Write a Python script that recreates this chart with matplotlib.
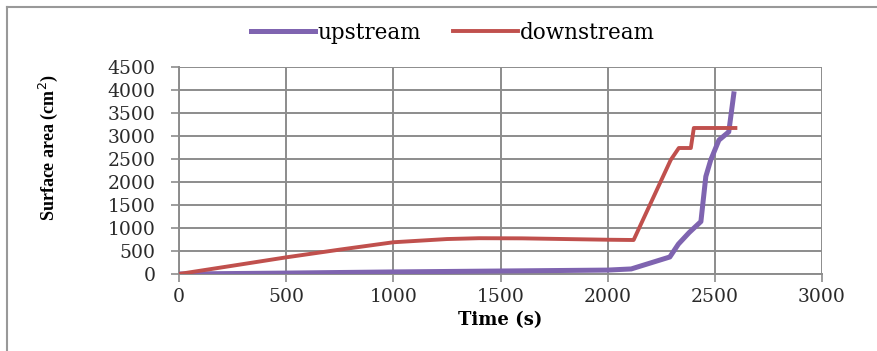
import matplotlib
matplotlib.use('Agg')
import matplotlib.pyplot as plt
from matplotlib.lines import Line2D

# surface area over time, upstream vs downstream
up_time = [0, 500, 1000, 1500, 2000, 2110, 2290, 2330, 2380, 2435, 2458, 2481, 2519, 2565, 2590]
up_area = [0, 20, 45, 65, 85, 110, 370, 650, 900, 1140, 2120, 2480, 2910, 3090, 3970]

down_time = [0, 250, 500, 750, 1000, 1250, 1400, 1600, 1800, 2000, 2121, 2294, 2332, 2388, 2402, 2605]
down_area = [0, 180, 362, 530, 690, 760, 778, 775, 760, 745, 739, 2478, 2739, 2739, 3174, 3174]

xticks = [0, 500, 1000, 1500, 2000, 2500, 3000]
yticks = [0, 500, 1000, 1500, 2000, 2500, 3000, 3500, 4000, 4500]

c_up = '#7f64b0'
c_down = '#c0504d'
grid_c = '#8c8c8c'

fig = plt.figure(figsize=(8.77, 3.51), dpi=100)
ax = fig.add_axes([179 / 877, 77 / 351, 643 / 877, 207 / 351])

ax.plot(up_time, up_area, color=c_up, lw=3.6, solid_capstyle='butt', zorder=3)
ax.plot(down_time, down_area, color=c_down, lw=2.8, solid_capstyle='butt', zorder=4)

ax.set_xlim(0, 3000)
ax.set_ylim(0, 4500)
ax.set_xticks(xticks)
ax.set_yticks(yticks)
ax.grid(True, color=grid_c, lw=1.4)
ax.set_axisbelow(True)
for s in ['top', 'right']:
    ax.spines[s].set_visible(False)
for s in ['left', 'bottom']:
    ax.spines[s].set_color(grid_c)
    ax.spines[s].set_linewidth(1.4)
ax.tick_params(axis='both', direction='out', length=6, width=1.2, color=grid_c,
               labelcolor='#2a2a2a', labelsize=13.5)
ax.tick_params(axis='x', pad=4)
ax.tick_params(axis='y', pad=11)
for lab in ax.get_xticklabels() + ax.get_yticklabels():
    lab.set_family('DejaVu Serif')

ax.set_xlabel('Time (s)', family='DejaVu Serif', fontweight='bold', fontsize=13, labelpad=4)
ax.set_ylabel('Surface area (cm$^2$)', family='Liberation Serif', fontweight='bold', fontsize=13)
ax.yaxis.set_label_coords(-0.185, 0.61)

handles = [Line2D([], [], color=c_up, lw=3.6), Line2D([], [], color=c_down, lw=2.8)]
fig.legend(handles, ['upstream', 'downstream'], loc='center', bbox_to_anchor=(453 / 877, 1 - 33 / 351),
           ncol=2, frameon=False, handlelength=3.0, handletextpad=0.1, columnspacing=1.5,
           prop={'family': 'DejaVu Serif', 'size': 15.5})

# chart area border
fig.add_artist(plt.Line2D([7 / 877, 7 / 877], [0, 1 - 7 / 351], transform=fig.transFigure,
                          color='#999999', lw=1.5))
fig.add_artist(plt.Line2D([7 / 877, 1], [1 - 7 / 351, 1 - 7 / 351], transform=fig.transFigure,
                          color='#999999', lw=1.5))

fig.savefig('out.png', dpi=100)
